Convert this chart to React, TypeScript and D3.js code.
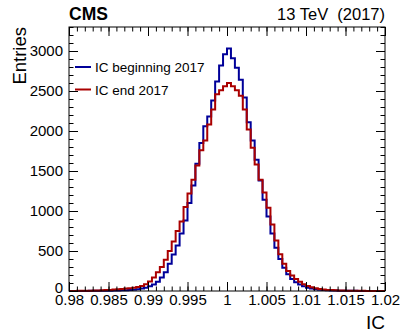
import { useEffect, useRef } from "react";
import * as d3 from "d3";

// histogram binning (80 bins over 0.98 .. 1.02)
const binLow = 0.98;
const binWidth = 0.0005;

// IC beginning 2017
const blueCounts = [
  0, 1, 1, 1, 1, 2, 2, 3, 3, 3,
  4, 5, 6, 8, 10, 13, 17, 23, 30, 42,
  60, 82, 115, 170, 235, 340, 455, 570, 720, 880,
  1100, 1320, 1590, 1850, 2060, 2180, 2380, 2620, 2820, 2960,
  3030, 2910, 2790, 2640, 2420, 2110, 1880, 1640, 1380, 1140,
  930, 720, 540, 400, 290, 210, 150, 110, 80, 58,
  42, 30, 22, 16, 12, 9, 7, 5, 4, 3,
  3, 2, 2, 1, 1, 1, 0, 0, 0, 0,
];

// IC end 2017
const redCounts = [
  1, 1, 2, 2, 3, 4, 5, 7, 9, 11,
  14, 18, 22, 26, 30, 35, 42, 50, 62, 85,
  120, 170, 235, 300, 390, 500, 620, 750, 870, 1050,
  1220, 1390, 1570, 1760, 1880, 2080, 2270, 2460, 2510, 2560,
  2600, 2560, 2510, 2440, 2270, 2020, 1790, 1580, 1390, 1230,
  1040, 830, 630, 460, 340, 250, 195, 150, 115, 85,
  62, 46, 34, 25, 19, 14, 11, 8, 6, 5,
  4, 3, 3, 2, 2, 1, 1, 1, 1, 0,
];

const xTicks = [0.98, 0.985, 0.99, 0.995, 1, 1.005, 1.01, 1.015, 1.02];
const xTickLabels = ["0.98", "0.985", "0.99", "0.995", "1", "1.005", "1.01", "1.015", "1.02"];
const yTicks = [0, 500, 1000, 1500, 2000, 2500, 3000];

const series = [
  { name: "IC beginning 2017", color: "#000099", counts: blueCounts },
  { name: "IC end 2017", color: "#aa0000", counts: redCounts },
];

const FONT = "'Liberation Sans', Arial, Helvetica, sans-serif";

export default function App() {
  const svgRef = useRef<SVGSVGElement>(null);

  useEffect(() => {
    const svg = d3.select(svgRef.current);
    svg.selectAll("*").remove();

    const left = 69, right = 385, top = 27, bottom = 291;

    const x = d3.scaleLinear().domain([0.98, 1.02]).range([left, right]);
    const y = d3.scaleLinear().domain([0, 3300]).range([bottom, top]);

    // ---------- histograms ----------
    const line = d3.line<[number, number]>()
      .x(d => x(d[0]))
      .y(d => y(d[1]))
      .curve(d3.curveStepAfter);

    series.forEach(s => {
      const pts: [number, number][] = s.counts.map((v, i) => [binLow + i * binWidth, v]);
      pts.push([binLow + s.counts.length * binWidth, s.counts[s.counts.length - 1]]);
      svg.append("path")
        .attr("d", line(pts))
        .attr("fill", "none")
        .attr("stroke", s.color)
        .attr("stroke-width", 2);
    });

    // ---------- axes (ROOT style, ticks inside, mirrored) ----------
    const minorX = d3.range(0, 41).map(i => 0.98 + i * 0.001);
    const minorY = d3.range(0, 34).map(i => i * 100);

    const styleAxis = (g: any) => {
      g.select(".domain").remove();
      g.selectAll("line").attr("stroke", "#000");
      g.selectAll("text").attr("font-family", FONT).attr("font-size", 15).attr("fill", "#000");
    };

    // bottom
    svg.append("g").attr("transform", `translate(0,${bottom})`)
      .call(d3.axisBottom(x).tickValues(minorX).tickSize(-4.5).tickFormat(() => ""))
      .call(styleAxis);
    svg.append("g").attr("transform", `translate(0,${bottom})`)
      .call(d3.axisBottom(x).tickValues(xTicks).tickSize(-9).tickPadding(3)
        .tickFormat((d, i) => xTickLabels[i]))
      .call(styleAxis);
    // top
    svg.append("g").attr("transform", `translate(0,${top})`)
      .call(d3.axisTop(x).tickValues(minorX).tickSize(-4.5).tickFormat(() => ""))
      .call(styleAxis);
    svg.append("g").attr("transform", `translate(0,${top})`)
      .call(d3.axisTop(x).tickValues(xTicks).tickSize(-9).tickFormat(() => ""))
      .call(styleAxis);
    // left
    svg.append("g").attr("transform", `translate(${left},0)`)
      .call(d3.axisLeft(y).tickValues(minorY).tickSize(-4.5).tickFormat(() => ""))
      .call(styleAxis);
    const yAxisG = svg.append("g").attr("transform", `translate(${left},0)`)
      .call(d3.axisLeft(y).tickValues(yTicks).tickSize(-9).tickPadding(6)
        .tickFormat(d => String(d)))
      .call(styleAxis);
    // the "0" label sits a little high, as in ROOT output
    yAxisG.selectAll("text").filter((d: any) => d === 0).attr("dy", "0.1em");
    // right
    svg.append("g").attr("transform", `translate(${right},0)`)
      .call(d3.axisRight(y).tickValues(minorY).tickSize(-4.5).tickFormat(() => ""))
      .call(styleAxis);
    svg.append("g").attr("transform", `translate(${right},0)`)
      .call(d3.axisRight(y).tickValues(yTicks).tickSize(-9).tickFormat(() => ""))
      .call(styleAxis);

    // frame
    svg.append("rect")
      .attr("x", left).attr("y", top)
      .attr("width", right - left).attr("height", bottom - top)
      .attr("fill", "none").attr("stroke", "#000").attr("stroke-width", 1);

    // ---------- titles ----------
    svg.append("text")
      .attr("x", right).attr("y", 329)
      .attr("text-anchor", "end")
      .attr("font-family", FONT).attr("font-size", 19)
      .text("IC");

    svg.append("text")
      .attr("transform", `translate(26,${top}) rotate(-90)`)
      .attr("text-anchor", "end")
      .attr("font-family", FONT).attr("font-size", 18.5)
      .text("Entries");

    svg.append("text")
      .attr("x", left).attr("y", 20)
      .attr("font-family", FONT).attr("font-size", 17.5).attr("font-weight", "bold")
      .text("CMS");

    svg.append("text")
      .attr("x", right).attr("y", 20)
      .attr("text-anchor", "end")
      .attr("font-family", FONT).attr("font-size", 16.5)
      .text("13 TeV\u00a0\u00a0(2017)");

    // ---------- legend ----------
    const lg = svg.append("g");
    series.forEach((s, i) => {
      const ly = 67 + i * 22.5;
      lg.append("line")
        .attr("x1", 75).attr("x2", 91)
        .attr("y1", ly).attr("y2", ly)
        .attr("stroke", s.color).attr("stroke-width", 2);
      lg.append("text")
        .attr("x", 95).attr("y", ly + 5)
        .attr("font-family", FONT).attr("font-size", 13.5)
        .text(s.name);
    });
  }, []);

  return (
    <svg
      ref={svgRef}
      width={407}
      height={335}
      style={{ position: "fixed", left: 0, top: 0, background: "#fff" }}
    />
  );
}
